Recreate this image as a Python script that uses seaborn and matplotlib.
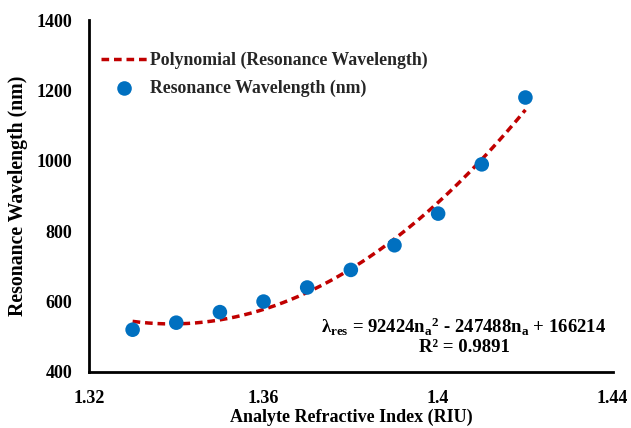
import numpy as np
import pandas as pd
import matplotlib
matplotlib.use("Agg")
import matplotlib.pyplot as plt
import seaborn as sns

# Data
refractive_index = [1.33, 1.34, 1.35, 1.36, 1.37, 1.38, 1.39, 1.40, 1.41, 1.42]
resonance_wl = [520, 540, 570, 600, 640, 690, 760, 850, 990, 1180]
poly_coeffs = [92424, -247488, 166214]
x_ticks = [1.32, 1.36, 1.40, 1.44]
x_tick_labels = ["1.32", "1.36", "1.4", "1.44"]
y_ticks = [400, 600, 800, 1000, 1200, 1400]

sns.set_theme(style="white")
plt.rcParams['font.family'] = ['Liberation Serif', 'DejaVu Serif']
plt.rcParams['font.weight'] = 'bold'
plt.rcParams['mathtext.fontset'] = 'custom'
plt.rcParams['mathtext.rm'] = 'Liberation Serif:bold'
plt.rcParams['mathtext.it'] = 'Liberation Serif:bold'
plt.rcParams['mathtext.bf'] = 'Liberation Serif:bold'

fig = plt.figure(figsize=(6.31, 4.28), dpi=100)
ax = fig.add_axes([0.141, 0.131, 0.830, 0.822])

df = pd.DataFrame({"n": refractive_index, "wl": resonance_wl})
xf = np.linspace(min(refractive_index), max(refractive_index), 200)
fit = pd.DataFrame({"n": xf, "wl": np.polyval(poly_coeffs, xf)})

sns.lineplot(data=fit, x="n", y="wl", ax=ax, color="#C00000", lw=2.5,
             linestyle=(0, (2.2, 1.4)), label="Polynomial (Resonance Wavelength)")
sns.scatterplot(data=df, x="n", y="wl", ax=ax, color="#0070C0", s=110,
                edgecolor="none", label="Resonance Wavelength (nm)", zorder=3)

ax.set_xlim(1.32, 1.44)
ax.set_ylim(400, 1400)
ax.set_xticks(x_ticks)
ax.set_xticklabels(x_tick_labels)
ax.set_yticks(y_ticks)
ax.tick_params(axis="both", direction="in", length=5, width=1.5, color="black",
               labelsize=13, labelcolor="black")
ax.tick_params(axis="y", pad=12)
ax.tick_params(axis="x", pad=13)
for lab in ax.get_xticklabels() + ax.get_yticklabels():
    lab.set_fontweight("bold")
for s in ["top", "right"]:
    ax.spines[s].set_visible(False)
for s in ["left", "bottom"]:
    ax.spines[s].set_color("black")
    ax.spines[s].set_linewidth(2)

ax.set_xlabel("Analyte Refractive Index (RIU)", fontsize=13, fontweight="bold", color="black", labelpad=1)
ax.set_ylabel("Resonance Wavelength (nm)", fontsize=14.2, fontweight="bold", color="black", labelpad=6)

leg = ax.legend(loc="upper left", bbox_to_anchor=(0.0, 0.945), frameon=False,
                prop={"weight": "bold", "size": 12.8}, handlelength=2.6, handletextpad=0.15,
                labelspacing=0.6, borderaxespad=0.3)

ax.text(0.716, 0.127, r"$\lambda_{\mathrm{res}}$ = 92424n$_{\mathrm{a}}$$^{2}$ - 247488n$_{\mathrm{a}}$ + 166214",
        transform=ax.transAxes, ha="center", va="center", fontsize=13.5, fontweight="bold", color="black")
ax.text(0.716, 0.07, "R² = 0.9891", transform=ax.transAxes, ha="center", va="center",
        fontsize=13.5, fontweight="bold", color="black")

fig.savefig("out.png", dpi=100)
